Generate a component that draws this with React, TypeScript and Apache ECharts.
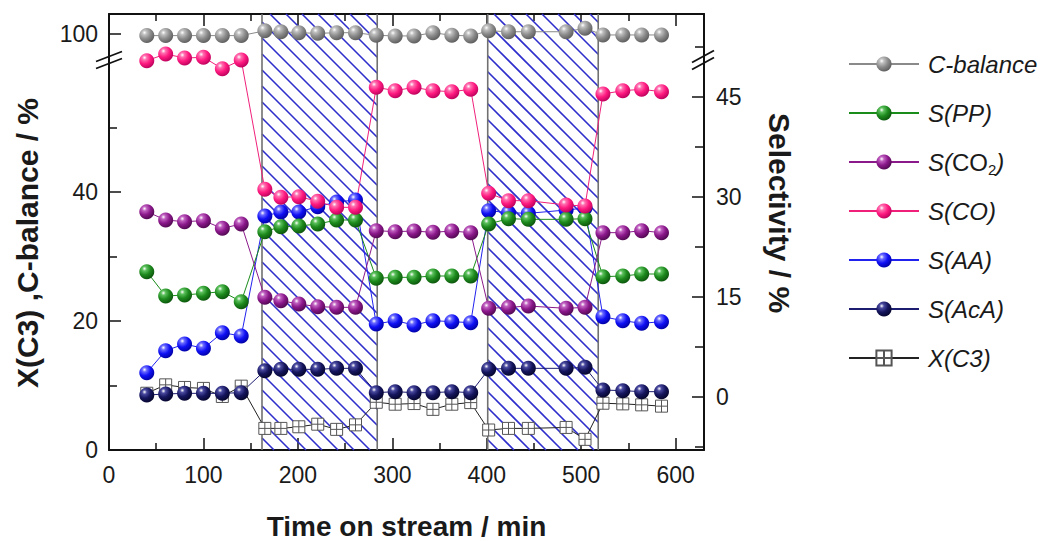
import React, { useEffect, useRef } from 'react';
import * as echarts from 'echarts';

const timeMin = [40, 60, 80, 100, 120, 140, 165, 182, 201, 221, 241, 261, 283, 303, 323, 343, 363, 383, 402, 423, 444, 484, 504, 523, 544, 564, 585];
const cBalance = [99.75, 99.75, 99.75, 99.75, 99.75, 99.75, 100.5, 100.35, 100.2, 100.1, 100.2, 100.2, 99.8, 99.7, 99.7, 100.2, 99.8, 99.7, 100.5, 100.35, 100.35, 100.35, 100.9, 99.85, 99.85, 99.85, 99.85];
const sPP = [18.75, 15.1, 15.25, 15.5, 15.75, 14.25, 24.75, 25.5, 25.6, 25.9, 26.5, 26.5, 17.75, 17.9, 17.9, 18.1, 18.1, 18.1, 25.9, 26.7, 26.6, 26.6, 26.7, 18.0, 18.1, 18.4, 18.4];
const sCO2 = [27.75, 26.5, 26.25, 26.4, 25.25, 25.9, 14.9, 14.4, 13.9, 13.5, 13.4, 13.4, 24.9, 24.75, 24.85, 24.65, 24.85, 24.6, 13.25, 13.4, 13.6, 13.25, 13.4, 24.6, 24.6, 24.9, 24.6];
const sCO = [50.4, 51.4, 50.8, 50.9, 49.2, 50.5, 31.1, 29.9, 30.0, 29.3, 28.4, 28.4, 46.4, 45.9, 46.4, 45.9, 45.75, 46.1, 30.5, 29.4, 29.4, 28.75, 28.6, 45.4, 45.9, 46.1, 45.75];
const sAA = [3.6, 6.9, 7.9, 7.25, 9.6, 9.1, 27.1, 27.7, 27.7, 28.5, 29.2, 29.5, 10.9, 11.4, 10.75, 11.4, 11.25, 11.1, 27.9, 27.6, 27.5, 28.0, 28.3, 12.0, 11.4, 11.0, 11.25];
const sAcA = [0.25, 0.4, 0.5, 0.5, 0.5, 0.6, 3.9, 4.1, 4.1, 4.1, 4.25, 4.25, 0.6, 0.75, 0.6, 0.6, 0.75, 0.6, 4.1, 4.25, 4.25, 4.25, 4.4, 1.0, 0.9, 0.75, 0.75];
const xC3 = [8.8, 10.1, 9.7, 9.55, 8.3, 9.9, 3.35, 3.35, 3.6, 4.0, 3.2, 3.9, 7.4, 7.1, 7.2, 6.3, 7.1, 7.35, 3.1, 3.35, 3.35, 3.5, 1.65, 7.25, 7.15, 7.0, 6.8];

const hatchStart = [162, 401];
const hatchEnd = [284, 518];

const xMajorTicks = [0, 100, 200, 300, 400, 500, 600];
const xMinorTicks = [50, 150, 250, 350, 450, 550];
const leftMajorTicks = [0, 20, 40];
const leftMinorTicks = [10, 30, 50];
const upperTicks = [100];
const rightMajorTicks = [0, 15, 30, 45];
const rightMinorTicks = [-7.5, 7.5, 22.5, 37.5, 52.5];

const FONT = 'Liberation Sans';
const INK = '#1a1a1a';

const ball = (light: string, base: string, dark: string) => ({
  type: 'radial',
  x: 0.35,
  y: 0.3,
  r: 0.75,
  colorStops: [
    { offset: 0, color: '#ffffff' },
    { offset: 0.2, color: light },
    { offset: 0.55, color: base },
    { offset: 1, color: dark },
  ],
});

const pairs = (vals: number[]) => timeMin.map((t, i) => [t, vals[i]]);

const lineSeries = (name: string, vals: number[], yAxisIndex: number, lineColor: string, itemColor: any, extra: any = {}) => ({
  type: 'line',
  name,
  xAxisIndex: 0,
  yAxisIndex,
  data: pairs(vals),
  symbol: 'circle',
  symbolSize: 15,
  showSymbol: true,
  lineStyle: { color: lineColor, width: 1 },
  itemStyle: { color: itemColor },
  emphasis: { disabled: true },
  z: 3,
  ...extra,
});

function breakMark(x: number, y: number, dx: number, dy: number) {
  const off = 3.5;
  const k = dy / dx;
  return {
    type: 'group',
    z: 100,
    silent: true,
    children: [
      {
        type: 'polygon',
        shape: {
          points: [
            [x - 4, y - off + 4 * k],
            [x + 4, y - off - 4 * k],
            [x + 4, y + off - 4 * k],
            [x - 4, y + off + 4 * k],
          ],
        },
        style: { fill: '#ffffff' },
      },
      { type: 'line', shape: { x1: x - dx, y1: y - off + dy, x2: x + dx, y2: y - off - dy }, style: { stroke: '#111', lineWidth: 1.8 } },
      { type: 'line', shape: { x1: x - dx, y1: y + off + dy, x2: x + dx, y2: y + off - dy }, style: { stroke: '#111', lineWidth: 1.8 } },
    ],
  };
}

export default function App() {
  const ref = useRef<HTMLDivElement>(null);

  useEffect(() => {
    if (!ref.current) return;
    const chart = echarts.init(ref.current, null, { renderer: 'svg' });

    const axisLineStyle = { color: '#111', width: 2 };
    const tickStyle = { color: '#111', width: 1.5 };
    const labelStyle = { fontSize: 23, color: INK, fontFamily: FONT };
    const titleStyle = { fontWeight: 'bold', color: INK, fontFamily: FONT };

    const baseX = { type: 'value', min: 0, max: 630, splitLine: { show: false } };
    const baseLeft = { type: 'value', min: 0, max: 67.6, splitLine: { show: false } };
    const baseRight = { type: 'value', min: -8, max: 57.4, splitLine: { show: false } };

    const option: any = {
      animation: false,
      backgroundColor: '#ffffff',
      grid: { left: 109, right: 345, top: 14, bottom: 91, outerBoundsMode: 'none', containLabel: false },
      legend: {
        orient: 'vertical',
        left: 848,
        top: 49,
        padding: 0,
        itemWidth: 70,
        itemHeight: 19,
        itemGap: 19,
        selectedMode: false,
        data: ['C-balance', 'S(PP)', 'S(CO2)', 'S(CO)', 'S(AA)', 'S(AcA)', 'X(C3)'],
        formatter: (name: string) => (name === 'S(CO2)' ? 'S({up|CO}{sub|2})' : name),
        textStyle: {
          fontSize: 24,
          fontStyle: 'italic',
          fontFamily: FONT,
          color: INK,
          lineHeight: 30,
          padding: [0, 0, 0, 4],
          rich: {
            up: { fontSize: 24, fontStyle: 'normal', fontFamily: FONT, color: INK, lineHeight: 30 },
            sub: { fontSize: 15, fontStyle: 'normal', fontFamily: FONT, color: INK, lineHeight: 18, verticalAlign: 'bottom' },
          },
        },
      },
      xAxis: [
        {
          ...baseX,
          position: 'bottom',
          axisLine: { show: true, onZero: false, lineStyle: axisLineStyle },
          axisTick: { show: true, inside: true, length: 12, customValues: xMajorTicks, lineStyle: tickStyle },
          axisLabel: { show: true, customValues: xMajorTicks, margin: 13, ...labelStyle },
          name: 'Time on stream / min',
          nameLocation: 'middle',
          nameGap: 62,
          nameTextStyle: { fontSize: 28, ...titleStyle },
        },
        {
          ...baseX,
          position: 'bottom',
          axisLine: { show: false, onZero: false },
          axisTick: { show: true, inside: true, length: 7, customValues: xMinorTicks, lineStyle: tickStyle },
          axisLabel: { show: false },
        },
        {
          ...baseX,
          position: 'top',
          axisLine: { show: true, onZero: false, lineStyle: axisLineStyle },
          axisTick: { show: true, inside: true, length: 12, customValues: xMajorTicks, lineStyle: tickStyle },
          axisLabel: { show: false },
        },
        {
          ...baseX,
          position: 'top',
          axisLine: { show: false, onZero: false },
          axisTick: { show: true, inside: true, length: 7, customValues: xMinorTicks, lineStyle: tickStyle },
          axisLabel: { show: false },
        },
      ],
      yAxis: [
        {
          ...baseLeft,
          position: 'left',
          axisLine: { show: true, onZero: false, lineStyle: axisLineStyle },
          axisTick: { show: true, inside: true, length: 12, customValues: leftMajorTicks, lineStyle: tickStyle },
          axisLabel: { show: true, customValues: leftMajorTicks, margin: 11, ...labelStyle },
          name: 'X(C3) ,C-balance / %',
          nameLocation: 'middle',
          nameGap: 67,
          nameTextStyle: { fontSize: 30, padding: [0, 22, 0, 0], ...titleStyle },
        },
        {
          ...baseLeft,
          position: 'left',
          axisLine: { show: false, onZero: false },
          axisTick: { show: true, inside: true, length: 8, customValues: leftMinorTicks, lineStyle: tickStyle },
          axisLabel: { show: false },
        },
        {
          type: 'value',
          min: 35.5,
          max: 103.1,
          splitLine: { show: false },
          position: 'left',
          axisLine: { show: false, onZero: false },
          axisTick: { show: true, inside: true, length: 12, customValues: upperTicks, lineStyle: tickStyle },
          axisLabel: { show: true, customValues: upperTicks, margin: 11, ...labelStyle },
        },
        {
          ...baseRight,
          position: 'right',
          axisLine: { show: true, onZero: false, lineStyle: axisLineStyle },
          axisTick: { show: true, inside: true, length: 12, customValues: rightMajorTicks, lineStyle: tickStyle },
          axisLabel: { show: true, customValues: rightMajorTicks, margin: 12, ...labelStyle },
          name: 'Selectivity / %',
          nameLocation: 'middle',
          nameRotate: -90,
          nameGap: 60,
          nameTextStyle: { fontSize: 30, padding: [0, 38, 0, 0], ...titleStyle },
        },
        {
          ...baseRight,
          position: 'right',
          axisLine: { show: false, onZero: false },
          axisTick: { show: true, inside: true, length: 9, customValues: rightMinorTicks, lineStyle: tickStyle },
          axisLabel: { show: false },
        },
      ],
      graphic: [breakMark(109, 60, 13, 5), breakMark(703, 60, 11, 6)],
      series: [
        {
          type: 'custom',
          name: 'hatch',
          xAxisIndex: 0,
          yAxisIndex: 0,
          z: 1,
          silent: true,
          data: hatchStart.map((s, i) => [s, hatchEnd[i]]),
          encode: { x: [0, 1] },
          renderItem: (params: any, api: any) => {
            const cs = params.coordSys;
            const xa = api.coord([api.value(0), 0])[0];
            const xb = api.coord([api.value(1), 0])[0];
            const y0 = cs.y;
            const y1 = cs.y + cs.height;
            const S = 16;
            const children: any[] = [];
            const cMin = Math.floor((y0 - xb) / S) * S;
            const cMax = y1 - xa;
            for (let c = cMin; c <= cMax; c += S) {
              const xs = Math.max(xa, y0 - c);
              const xe = Math.min(xb, y1 - c);
              if (xe - xs > 0.5) {
                children.push({
                  type: 'line',
                  shape: { x1: xs, y1: xs + c, x2: xe, y2: xe + c },
                  style: { stroke: '#2e2ecc', lineWidth: 1.6 },
                });
              }
            }
            children.push({ type: 'line', shape: { x1: xa, y1: y0, x2: xa, y2: y1 }, style: { stroke: '#707070', lineWidth: 1.6 } });
            children.push({ type: 'line', shape: { x1: xb, y1: y0, x2: xb, y2: y1 }, style: { stroke: '#707070', lineWidth: 1.6 } });
            return { type: 'group', children };
          },
        },
        lineSeries('X(C3)', xC3, 0, '#222222', '#ffffff', {
          symbol: 'path://M0 0H10V10H0Z M5 0V10 M0 5H10',
          symbolSize: 12,
          itemStyle: { color: '#ffffff', borderColor: '#555555', borderWidth: 1 },
        }),
        lineSeries('S(AcA)', sAcA, 3, '#1c1c70', ball('#4a4aa0', '#15155e', '#05052a')),
        lineSeries('S(AA)', sAA, 3, '#2222ee', ball('#6a6aff', '#1010f5', '#0000a0')),
        lineSeries('S(PP)', sPP, 3, '#1a8c1a', ball('#5cc05c', '#1d8a1d', '#0b520b')),
        lineSeries('S(CO2)', sCO2, 3, '#8a1a8a', ball('#c060c0', '#8b188b', '#4e084e')),
        lineSeries('S(CO)', sCO, 3, '#f0207a', ball('#ff70b0', '#ff1a80', '#b8005a')),
        lineSeries('C-balance', cBalance, 2, '#8a8a8a', ball('#c0c0c0', '#8c8c8c', '#5a5a5a')),
      ],
    };

    chart.setOption(option);
    return () => chart.dispose();
  }, []);

  return <div ref={ref} style={{ position: 'fixed', left: 0, top: 0, width: 1049, height: 541, background: '#fff' }} />;
}
